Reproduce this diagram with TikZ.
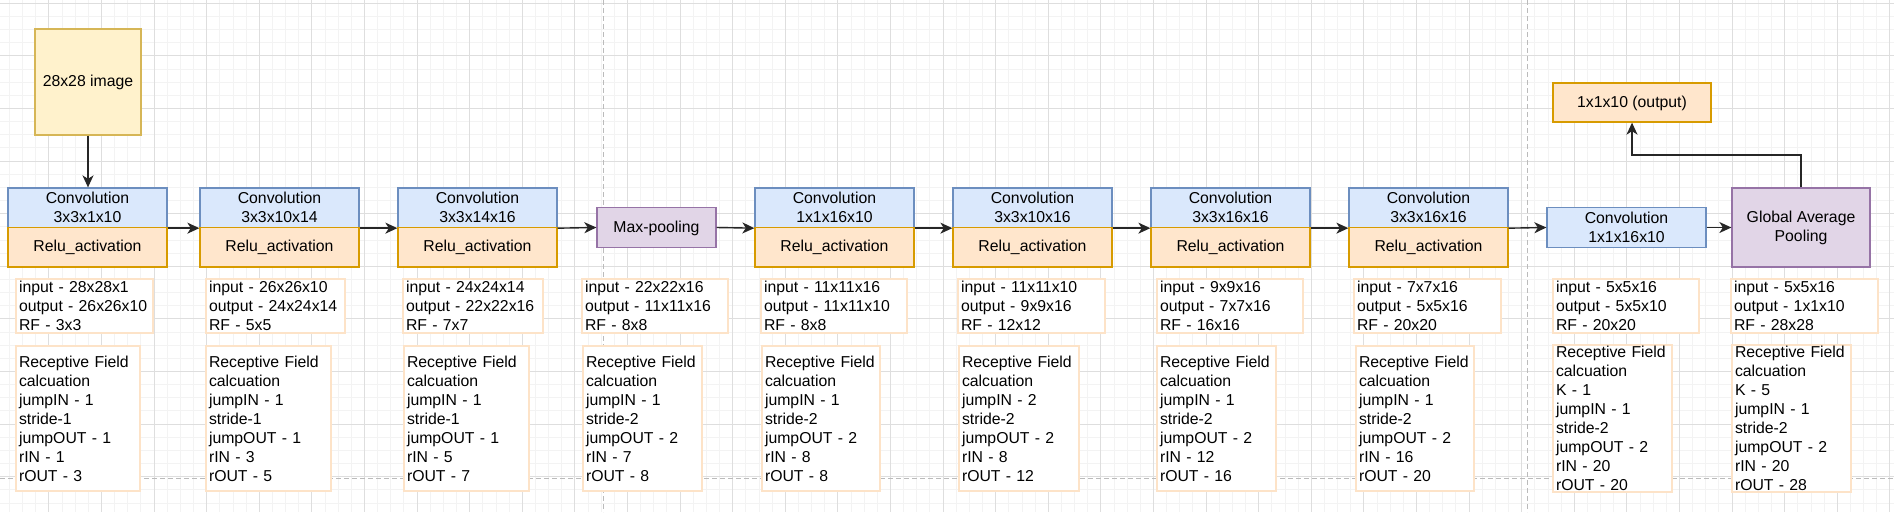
\documentclass[tikz,border=0pt]{standalone}
\usepackage{fontspec}
\setmainfont{Liberation Sans}
\usetikzlibrary{arrows.meta}
\definecolor{cfill}{HTML}{DAE8FC}
\definecolor{cstroke}{HTML}{6C8EBF}
\definecolor{rfill}{HTML}{FFE6CC}
\definecolor{rstroke}{HTML}{D79B00}
\definecolor{pfill}{HTML}{E1D5E7}
\definecolor{pstroke}{HTML}{9673A6}
\definecolor{yfill}{HTML}{FFF2CC}
\definecolor{ystroke}{HTML}{D6B656}
\definecolor{istroke}{HTML}{FDE3C8}
\definecolor{gminor}{HTML}{F3F3F3}
\definecolor{gmajor}{HTML}{DEDEDE}
\definecolor{pagedash}{HTML}{BBBBBB}
\newcommand\vst{\rule[-1.4pt]{0pt}{14pt}}
\tikzset{
  box/.style={draw, line width=1.3pt, inner sep=0pt, align=center},
  convbox/.style={box, fill=cfill, draw=cstroke, minimum width=159pt, minimum height=39.5pt},
  relubox/.style={box, fill=rfill, draw=rstroke, minimum width=159pt, minimum height=39.5pt},
  poolbox/.style={box, fill=pfill, draw=pstroke},
  info/.style={draw=istroke, line width=2pt, fill=white, inner xsep=3pt, inner ysep=0pt, align=left},
  arr/.style={-{Stealth[length=12pt,width=11pt,inset=3.5pt]}, line width=1.4pt, black!85},
  gridminor/.style={gminor, line width=1pt},
  gridmajor/.style={gmajor, line width=0.9pt},
  pageline/.style={pagedash, line width=1pt, dash pattern=on 5pt off 3pt}
}
\begin{document}
\begin{tikzpicture}[x=1pt, y=-1pt, font=\fontsize{15.8}{19}\selectfont]
\useasboundingbox (0,0) rectangle (1894,512);
\fill[white] (0,0) rectangle (1894,512);
% grid
\foreach \i in {0,...,144} {\draw[gridminor] ({-3.7+13.15*\i},0) -- ({-3.7+13.15*\i},512);}
\foreach \i in {0,...,38} {\draw[gridminor] (0,{3.3+13.15*\i}) -- (1894,{3.3+13.15*\i});}
\foreach \i in {0,...,36} {\draw[gridmajor] ({-3.7+52.6*\i},0) -- ({-3.7+52.6*\i},512);}
\foreach \i in {0,...,9} {\draw[gridmajor] (0,{3.3+52.6*\i}) -- (1894,{3.3+52.6*\i});}
% page breaks
\draw[pageline] (603,0) -- (603,512);
\draw[pageline] (1527,0) -- (1527,512);
\draw[pageline] (0,478) -- (1894,478);

% input image
\node[box, fill=yfill, draw=ystroke, minimum width=106pt, minimum height=106pt] (img) at (88,82) {\vst 28x28 image};

% convolution blocks
\node[convbox] (c1) at (87.5,207.75) {\vst Convolution\\3x3x1x10\vst};
\node[relubox] (r1) at (87.5,247.25) {\vst Relu\_activation};
\node[convbox] (c2) at (279.5,207.75) {\vst Convolution\\3x3x10x14\vst};
\node[relubox] (r2) at (279.5,247.25) {\vst Relu\_activation};
\node[convbox] (c3) at (477.5,207.75) {\vst Convolution\\3x3x14x16\vst};
\node[relubox] (r3) at (477.5,247.25) {\vst Relu\_activation};
\node[poolbox, minimum width=119pt, minimum height=39.5pt] (mp) at (656.5,227.5) {\vst Max-pooling};
\node[convbox] (c5) at (834.5,207.75) {\vst Convolution\\1x1x16x10\vst};
\node[relubox] (r5) at (834.5,247.25) {\vst Relu\_activation};
\node[convbox] (c6) at (1032.5,207.75) {\vst Convolution\\3x3x10x16\vst};
\node[relubox] (r6) at (1032.5,247.25) {\vst Relu\_activation};
\node[convbox] (c7) at (1230.5,207.75) {\vst Convolution\\3x3x16x16\vst};
\node[relubox] (r7) at (1230.5,247.25) {\vst Relu\_activation};
\node[convbox] (c8) at (1428.5,207.75) {\vst Convolution\\3x3x16x16\vst};
\node[relubox] (r8) at (1428.5,247.25) {\vst Relu\_activation};
\node[convbox] (c9) at (1626.5,227.5) {\vst Convolution\\1x1x16x10\vst};
\node[poolbox, minimum width=138pt, minimum height=79pt] (gap) at (1801,227.5) {\vst Global Average\\Pooling\vst};
\node[relubox, minimum width=158pt, minimum height=39pt] (out) at (1632,102.5) {\vst 1x1x10 (output)};

% connectors
\draw[arr] (img.south) -- (img.south |- c1.north);
\draw[arr] (c1.south east) -- (c2.south west);
\draw[arr] (c2.south east) -- (c3.south west);
\draw[arr] (c3.south east) -- (mp.west);
\draw[arr] (mp.east) -- (c5.south west);
\draw[arr] (c5.south east) -- (c6.south west);
\draw[arr] (c6.south east) -- (c7.south west);
\draw[arr] (c7.south east) -- (c8.south west);
\draw[arr] (c8.south east) -- (c9.west);
\draw[arr] (c9.east) -- (gap.west);
\coordinate (turn) at (1632,155);
\draw[arr] (gap.north) |- (turn) -- (out.south);

% info boxes
\node[info, text width=131pt, minimum height=54pt] (i1) at (84.5,306) {\vst input - 28x28x1\\output - 26x26x10\\RF - 3x3\vst};
\node[info, text width=133pt, minimum height=54pt] (i2) at (275.5,306) {\vst input - 26x26x10\\output - 24x24x14\\RF - 5x5\vst};
\node[info, text width=134pt, minimum height=54pt] (i3) at (473,306) {\vst input - 24x24x14\\output - 22x22x16\\RF - 7x7\vst};
\node[info, text width=140pt, minimum height=54pt] (i4) at (655,306) {\vst input - 22x22x16\\output - 11x11x16\\RF - 8x8\vst};
\node[info, text width=140pt, minimum height=54pt] (i5) at (834,306) {\vst input - 11x11x16\\output - 11x11x10\\RF - 8x8\vst};
\node[info, text width=141pt, minimum height=54pt] (i6) at (1031.5,306) {\vst input - 11x11x10\\output - 9x9x16\\RF - 12x12\vst};
\node[info, text width=140pt, minimum height=54pt] (i7) at (1230,306) {\vst input - 9x9x16\\output - 7x7x16\\RF - 16x16\vst};
\node[info, text width=141pt, minimum height=54pt] (i8) at (1427.5,306) {\vst input - 7x7x16\\output - 5x5x16\\RF - 20x20\vst};
\node[info, text width=140pt, minimum height=54pt] (i9) at (1626,306) {\vst input - 5x5x16\\output - 5x5x10\\RF - 20x20\vst};
\node[info, text width=141pt, minimum height=54pt] (i10) at (1804.5,306) {\vst input - 5x5x16\\output - 1x1x10\\RF - 28x28\vst};

% receptive field boxes
\node[info, text width=118pt, minimum height=145pt] (f1) at (78,418.5) {\vst Receptive Field\\calcuation\\jumpIN - 1\\stride-1\\jumpOUT - 1\\rIN - 1\\rOUT - 3\vst};
\node[info, text width=119pt, minimum height=145pt] (f2) at (268.5,418.5) {\vst Receptive Field\\calcuation\\jumpIN - 1\\stride-1\\jumpOUT - 1\\rIN - 3\\rOUT - 5\vst};
\node[info, text width=119pt, minimum height=145pt] (f3) at (466.5,418.5) {\vst Receptive Field\\calcuation\\jumpIN - 1\\stride-1\\jumpOUT - 1\\rIN - 5\\rOUT - 7\vst};
\node[info, text width=113pt, minimum height=145pt] (f4) at (642.5,418.5) {\vst Receptive Field\\calcuation\\jumpIN - 1\\stride-2\\jumpOUT - 2\\rIN - 7\\rOUT - 8\vst};
\node[info, text width=112pt, minimum height=145pt] (f5) at (821,418.5) {\vst Receptive Field\\calcuation\\jumpIN - 1\\stride-2\\jumpOUT - 2\\rIN - 8\\rOUT - 8\vst};
\node[info, text width=114pt, minimum height=145pt] (f6) at (1019,418.5) {\vst Receptive Field\\calcuation\\jumpIN - 2\\stride-2\\jumpOUT - 2\\rIN - 8\\rOUT - 12\vst};
\node[info, text width=113pt, minimum height=145pt] (f7) at (1216.5,418.5) {\vst Receptive Field\\calcuation\\jumpIN - 1\\stride-2\\jumpOUT - 2\\rIN - 12\\rOUT - 16\vst};
\node[info, text width=112pt, minimum height=145pt] (f8) at (1415,418.5) {\vst Receptive Field\\calcuation\\jumpIN - 1\\stride-2\\jumpOUT - 2\\rIN - 16\\rOUT - 20\vst};
\node[info, text width=113pt, minimum height=147pt] (f9) at (1612.5,418.5) {\vst Receptive Field\\calcuation\\K - 1\\jumpIN - 1\\stride-2\\jumpOUT - 2\\rIN - 20\\rOUT - 20\vst};
\node[info, text width=113pt, minimum height=147pt] (f10) at (1791.5,418.5) {\vst Receptive Field\\calcuation\\K - 5\\jumpIN - 1\\stride-2\\jumpOUT - 2\\rIN - 20\\rOUT - 28\vst};
\end{tikzpicture}
\end{document}
